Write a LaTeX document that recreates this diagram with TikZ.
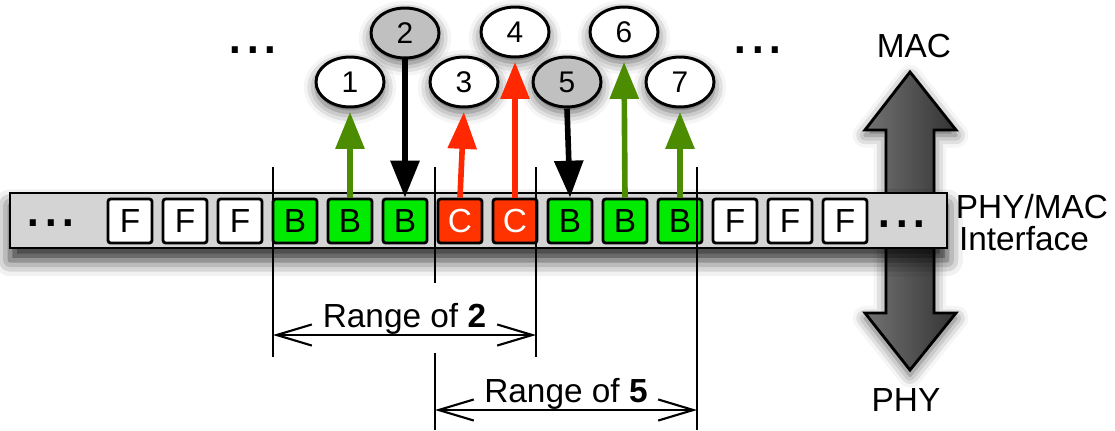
\documentclass[tikz,border=0pt]{standalone}
\usepackage{fontspec}
\setmainfont{Liberation Sans}
\usetikzlibrary{positioning,arrows}
\usetikzlibrary{shapes}
\usetikzlibrary{arrows.meta}
\usetikzlibrary{shadows.blur}
\usepackage{xcolor}
\definecolor{bargray}{RGB}{212,212,212}
\definecolor{boxgreen}{RGB}{0,235,0}
\definecolor{boxred}{RGB}{255,51,0}
\definecolor{arrowred}{RGB}{255,40,0}
\definecolor{arrowgreen}{RGB}{75,140,0}
\definecolor{ellgray}{RGB}{192,192,192}

\begin{document}
\begin{tikzpicture}[x=0.02cm,y=-0.02cm]
	\useasboundingbox (0,0) rectangle (1115,430);
	\tikzstyle{every node}=[font=\fontsize{19}{16}\selectfont]
	\tikzstyle{softshadow}=[blur shadow={shadow xshift=0pt, shadow yshift=-3pt, shadow blur radius=7pt, shadow opacity=65}]
	\tikzstyle{slot}=[draw, line width=1.6pt, rounded corners=1.5pt, minimum size=0.88cm, inner sep=0pt]
	\tikzstyle{free}=[slot, fill=white]
	\tikzstyle{busy}=[slot, fill=boxgreen]
	\tikzstyle{coll}=[slot, fill=boxred, text=white]
	\tikzstyle{station}=[ellipse, draw, line width=1.7pt, fill=white, minimum width=1.36cm, minimum height=1.0cm, inner sep=0pt, font=\fontsize{17}{20}\selectfont, softshadow]
	\tikzstyle{dots}=[inner sep=0pt, anchor=base, font=\fontsize{36}{40}\selectfont]
	\tikzstyle{toMAC}=[line width=3.2pt, -{Triangle[length=21pt,width=16pt]}, shorten >=2pt]
	\tikzstyle{toPHY}=[line width=3.2pt, black, -{Triangle[length=21pt,width=16pt]}]
	\tikzstyle{rangearrow}=[line width=1.2pt, {Straight Barb[length=20pt,width=12pt]}-{Straight Barb[length=20pt,width=12pt]}]

	% PHY <-> MAC arrow behind the bar
	\draw [line width=1.6pt, left color=black!55, middle color=black!30, right color=black!80, softshadow]
		(910,72) -- (956,130) -- (934,130) -- (934,313) -- (956,313) -- (910,370)
		-- (865,313) -- (886,313) -- (886,130) -- (865,130) -- cycle;
	\draw (914,46) node (mac) {MAC};
	\draw (906,400) node (phy) {PHY};
	\draw (1032,218) node (iface) [anchor=base, inner sep=0pt] {PHY/MAC};
	\draw (1024,250) node (iface2) [anchor=base, inner sep=0pt] {Interface};

	% the bar with its slots
	\draw [line width=1.6pt, fill=bargray, blur shadow={shadow xshift=0pt, shadow yshift=-7pt, shadow blur radius=9pt, shadow opacity=85}] (10,193) rectangle (947,248);
	\draw (51,226) node (ldots) [dots] {...};
	\draw (902,227) node (rdots) [dots] {...};
	\draw (130,221) node (f1) [free] {F};
	\draw (185,221) node (f2) [free] {F};
	\draw (240,221) node (f3) [free] {F};
	\draw (295,221) node (b1) [busy] {B};
	\draw (350,221) node (b2) [busy] {B};
	\draw (405,221) node (b3) [busy] {B};
	\draw (460,221) node (c1) [coll] {C};
	\draw (515,221) node (c2) [coll] {C};
	\draw (570,221) node (b4) [busy] {B};
	\draw (625,221) node (b5) [busy] {B};
	\draw (680,221) node (b6) [busy] {B};
	\draw (735,221) node (f4) [free] {F};
	\draw (790,221) node (f5) [free] {F};
	\draw (845,221) node (f6) [free] {F};

	% stations
	\draw (253,53) node (tldots) [dots] {...};
	\draw (758,53) node (trdots) [dots] {...};
	\draw (350,82) node (s1) [station] {1};
	\draw (405,33) node (s2) [station, fill=ellgray] {2};
	\draw (464,82) node (s3) [station] {3};
	\draw (515,32) node (s4) [station] {4};
	\draw (567,82) node (s5) [station, fill=ellgray] {5};
	\draw (624,32) node (s6) [station] {6};
	\draw (680,82) node (s7) [station] {7};

	\draw [toMAC, arrowgreen] (b2.north) -- (s1.south);
	\draw [toPHY] (s2.south) -- (b3.north);
	\draw [toMAC, arrowred] (c1.north) -- (s3.south);
	\draw [toMAC, arrowred] (c2.north) -- (s4.south);
	\draw [toPHY] (s5.south) -- (b4.north);
	\draw [toMAC, arrowgreen] (b5.north) -- (s6.south);
	\draw [toMAC, arrowgreen] (b6.north) -- (s7.south);

	% ranges
	\draw [line width=1.2pt] (273,167) -- (273,357);
	\draw [line width=1.2pt] (536,167) -- (536,357);
	\draw [line width=1.2pt] (435,167) -- (435,283);
	\draw [line width=1.2pt] (435,353) -- (435,430);
	\draw [line width=1.2pt] (697,167) -- (697,430);
	\coordinate (r2l) at (273,335);
	\coordinate (r2r) at (536,335);
	\coordinate (r5l) at (435,410);
	\coordinate (r5r) at (697,410);
	\draw [rangearrow] (r2l) -- node[above=0pt, inner sep=0pt] {Range of \textbf{2}} (r2r);
	\draw [rangearrow] (r5l) -- node[above=0pt, inner sep=0pt] {Range of \textbf{5}} (r5r);
\end{tikzpicture}
\end{document}
